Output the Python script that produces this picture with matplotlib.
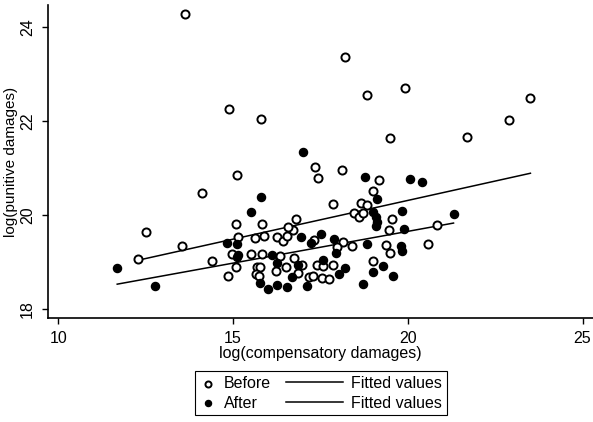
import numpy as np
import matplotlib
matplotlib.use('Agg')
import matplotlib.pyplot as plt
from matplotlib.legend_handler import HandlerLine2D

plt.rcParams['font.family'] = ['Liberation Sans', 'DejaVu Sans']

# points: log(compensatory), log(punitive)
before_x = [13.63, 14.89, 15.80, 15.11, 18.20, 18.83, 19.91, 19.49, 21.70, 22.89,
            23.51, 17.34, 18.11, 17.43, 19.17, 19.00, 17.86, 18.66, 18.83, 18.46,
            18.60, 18.71, 19.54, 19.46, 20.83, 20.57, 19.37, 19.49, 19.00, 18.14,
            18.40, 17.97, 17.31, 16.80, 16.71, 16.74, 17.40, 17.57, 17.86, 17.17,
            17.29, 17.54, 17.74, 16.86, 16.97, 14.11, 15.09, 15.83, 12.51, 13.54,
            12.29, 14.40, 14.86, 15.09, 15.63, 15.89, 16.26, 16.43, 16.57, 16.54,
            15.14, 14.97, 15.51, 15.83, 16.34, 15.69, 15.77, 15.66, 15.74, 16.23,
            16.51]
before_y = [24.28, 22.26, 22.04, 20.85, 23.36, 22.55, 22.70, 21.64, 21.66, 22.02,
            22.50, 21.02, 20.96, 20.79, 20.74, 20.51, 20.23, 20.25, 20.21, 20.04,
            19.96, 20.04, 19.91, 19.68, 19.79, 19.38, 19.36, 19.19, 19.02, 19.43,
            19.34, 19.32, 19.47, 19.91, 19.68, 19.09, 18.94, 18.91, 18.94, 18.68,
            18.70, 18.66, 18.64, 18.77, 18.94, 20.47, 19.81, 19.81, 19.64, 19.34,
            19.06, 19.02, 18.70, 18.89, 19.51, 19.55, 19.53, 19.45, 19.74, 19.55,
            19.53, 19.17, 19.17, 19.17, 19.13, 18.89, 18.89, 18.74, 18.70, 18.81,
            18.89]

after_x = [17.00, 18.77, 20.06, 20.40, 19.11, 19.00, 19.09, 19.11, 19.09, 19.83,
           21.31, 19.89, 16.94, 17.51, 17.23, 17.89, 17.94, 18.83, 19.80, 19.83,
           17.57, 16.86, 18.20, 18.03, 19.29, 19.00, 19.57, 18.71, 17.11, 16.69,
           11.69, 12.77, 15.80, 15.51, 14.83, 15.11, 15.14, 15.11, 15.77, 16.00,
           16.26, 16.54, 16.26, 16.11]
after_y = [21.34, 20.80, 20.77, 20.70, 20.34, 20.06, 19.96, 19.85, 19.77, 20.09,
           20.02, 19.70, 19.53, 19.60, 19.40, 19.49, 19.19, 19.38, 19.34, 19.23,
           19.04, 18.94, 18.87, 18.74, 18.91, 18.79, 18.70, 18.53, 18.49, 18.68,
           18.87, 18.49, 20.38, 20.06, 19.40, 19.38, 19.15, 19.10, 18.55, 18.43,
           18.51, 18.47, 18.98, 19.15]

# fitted line end points
fit_before_x = [12.29, 23.51]
fit_before_y = [19.04, 20.89]
fit_after_x = [11.69, 21.31]
fit_after_y = [18.53, 19.83]

xticks = [10, 15, 20, 25]
yticks = [18, 20, 22, 24]


class LongLine(HandlerLine2D):
    # longer handle for the fitted lines only
    def legend_artist(self, legend, orig_handle, fontsize, handlebox):
        handlebox.width = 3.6 * fontsize
        return super().legend_artist(legend, orig_handle, fontsize, handlebox)


fig = plt.figure(figsize=(5.93, 4.22), dpi=100)
ax = fig.add_axes([48 / 593, 1 - 318 / 422, (593 - 48) / 593, 313 / 422])

s1 = ax.scatter(before_x, before_y, s=34, facecolors='white', edgecolors='black',
                linewidths=1.4, zorder=3, label='Before')
s2 = ax.scatter(after_x, after_y, s=34, facecolors='black', edgecolors='black',
                linewidths=1.0, zorder=3, label='After')
l1, = ax.plot(fit_before_x, fit_before_y, color='black', lw=1.1, label='Fitted values')
l2, = ax.plot(fit_after_x, fit_after_y, color='black', lw=1.1, label='Fitted values')

ax.set_xlim(9.71, 25.3)
ax.set_ylim(17.81, 24.47)
ax.set_xticks(xticks)
ax.set_yticks(yticks)
ax.spines['top'].set_visible(False)
ax.spines['right'].set_visible(False)
ax.spines['left'].set_linewidth(1.2)
ax.spines['bottom'].set_linewidth(1.2)
ax.tick_params(length=4.5, width=1.0, labelsize=11.5, pad=5)
for lab in ax.get_yticklabels():
    lab.set_rotation(90)
    lab.set_va('center')
ax.set_xlabel('log(compensatory damages)', fontsize=11.5, labelpad=0)
ax.set_ylabel('log(punitive damages)', fontsize=11, labelpad=1.5)

leg = fig.legend([s1, s2, l1, l2], ['Before', 'After', 'Fitted values', 'Fitted values'],
                 ncol=2, loc='upper center', bbox_to_anchor=(321 / 593, 1 - 371 / 422),
                 borderaxespad=0, fontsize=11.5, markerscale=0.75,
                 handlelength=1.0, handletextpad=0.5, columnspacing=0.9,
                 labelspacing=0.3, borderpad=0.3, fancybox=False, framealpha=1,
                 edgecolor='black', handler_map={l1: LongLine(), l2: LongLine()})
leg.get_frame().set_linewidth(0.8)

fig.savefig('out.png', dpi=100)
